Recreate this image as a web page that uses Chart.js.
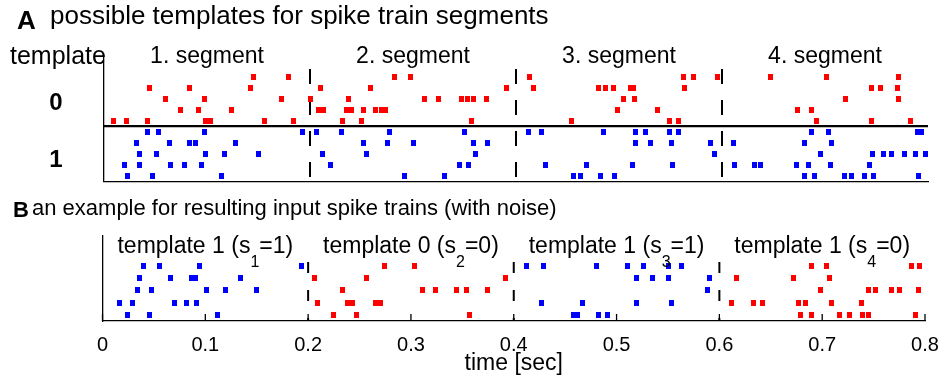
<!DOCTYPE html>
<html>
<head>
<meta charset="utf-8">
<script src="https://cdn.jsdelivr.net/npm/chart.js@4.4.1/dist/chart.umd.min.js"></script>
<style>
html,body{margin:0;padding:0;background:#fff;}
#wrap{position:relative;width:946px;height:377px;overflow:hidden;}
#topChart{position:absolute;left:0;top:0;}
#botChart{position:absolute;left:0;top:190px;}
</style>
</head>
<body>
<div id="wrap">
<canvas id="topChart" width="946" height="190"></canvas>
<canvas id="botChart" width="946" height="187"></canvas>
</div>
<script>
// Segments and labels
const segBounds=[0,0.2,0.4,0.6,0.8];
const segNames=["1. segment","2. segment","3. segment","4. segment"];
const segTemplate=[1,0,1,1];
const segS=[1,0,1,0];
const timeTicks=[0,0.1,0.2,0.3,0.4,0.5,0.6,0.7,0.8];

// Panel A: template 0 (red), rows from top to bottom
const template0=[
 [0.145,0.179,0.282,0.298,0.413,0.563,0.572,0.596,0.647,0.701,0.771],
 [0.044,0.083,0.142,0.210,0.259,0.391,0.417,0.480,0.487,0.495,0.511,0.514,0.564,0.745,0.754,0.770],
 [0.060,0.098,0.172,0.200,0.237,0.311,0.325,0.347,0.353,0.359,0.371,0.504,0.515,0.720,0.771],
 [0.074,0.092,0.124,0.208,0.213,0.235,0.240,0.252,0.264,0.269,0.273,0.499,0.537,0.673,0.687],
 [0.009,0.022,0.042,0.099,0.103,0.156,0.184,0.232,0.250,0.357,0.454,0.549,0.558,0.692,0.745,0.783]
];
// Panel A: template 1 (blue), rows from top to bottom
const template1=[
 [0.042,0.053,0.098,0.193,0.206,0.231,0.277,0.350,0.412,0.425,0.485,0.516,0.526,0.549,0.558,0.687,0.703,0.790,0.794],
 [0.032,0.064,0.083,0.089,0.128,0.252,0.275,0.300,0.359,0.372,0.516,0.531,0.551,0.589,0.611,0.680,0.706],
 [0.034,0.051,0.099,0.117,0.150,0.212,0.255,0.361,0.593,0.696,0.746,0.757,0.765,0.777,0.788,0.798],
 [0.020,0.034,0.065,0.078,0.095,0.220,0.345,0.354,0.429,0.468,0.513,0.552,0.612,0.632,0.637,0.672,0.684,0.705,0.743],
 [0.023,0.047,0.114,0.292,0.331,0.456,0.463,0.482,0.496,0.680,0.690,0.719,0.726,0.738,0.747,0.791]
];
// Panel B: resulting input spike trains, rows from top to bottom
const inputBlue=[
 [0.040,0.055,0.094,0.194,0.412,0.429,0.480,0.511,0.526,0.551,0.563],
 [0.036,0.066,0.087,0.090,0.134,0.519,0.535,0.551,0.590],
 [0.034,0.048,0.101,0.120,0.150,0.588],
 [0.017,0.029,0.070,0.082,0.091,0.427,0.467,0.519,0.553],
 [0.024,0.046,0.112,0.458,0.462,0.482,0.491]
];
const inputRed=[
 [0.274,0.303,0.690,0.704,0.787,0.795],
 [0.206,0.257,0.392,0.617,0.672,0.707],
 [0.233,0.311,0.324,0.344,0.354,0.374,0.698,0.745,0.752,0.767,0.775,0.794],
 [0.209,0.238,0.243,0.266,0.270,0.612,0.633,0.642,0.677,0.684,0.709,0.738],
 [0.225,0.247,0.357,0.679,0.690,0.717,0.727,0.739,0.745,0.791]
];

const FONT="'Liberation Sans', Arial, Helvetica, sans-serif";

// little spike marks
function mark(color){let c=document.createElement("canvas"); c.width=5; c.height=6; let g=c.getContext("2d"); g.fillStyle=color; g.fillRect(0,0,5,6); return c;}
const redMark=mark("#ff0000"), blueMark=mark("#0000ff");

function spikeSets(rows,topRow,img){
    return rows.map((r,i)=>({data:r.map(t=>({x:t,y:topRow-i})),pointStyle:img,pointRadius:3,pointHoverRadius:3,showLine:false,clip:false,order:0}));
}
function dashSets(yTop,yBot,dash){
    return segBounds.slice(1,-1).map(e=>({data:[{x:e,y:yTop},{x:e,y:yBot}],showLine:true,borderColor:"#000",borderWidth:2,borderDash:dash,pointRadius:0,order:1}));
}
function plainAxis(extra){
    return Object.assign({type:"linear",ticks:{display:false},grid:{display:true,drawOnChartArea:false,drawTicks:false},border:{display:true,color:"#000",width:1.3}},extra);
}

// Panel A
const topMin=0.455, topMax=11.88;
let topChart=new Chart(document.getElementById("topChart"),{
    type:"scatter",
    data:{datasets:[
        ...spikeSets(template0,10,redMark),
        ...spikeSets(template1,5,blueMark),
        {data:[{x:segBounds[0],y:5.5},{x:segBounds[segBounds.length-1],y:5.5}],showLine:true,borderColor:"#000",borderWidth:2.2,pointRadius:0,order:1},
        ...dashSets(10.7,topMin,[15,16])
    ]},
    options:{
        responsive:false,animation:false,events:[],
        layout:{padding:{top:56,right:18,left:0,bottom:0}},
        plugins:{legend:{display:false},tooltip:{enabled:false}},
        scales:{
            x:plainAxis({min:0,max:0.8,afterFit:s=>{s.height=190-181.7;s.paddingLeft=0;s.paddingRight=0;}}),
            y:plainAxis({min:topMin,max:topMax,afterFit:s=>{s.width=104;}})
        }
    },
    plugins:[{id:"textA",afterDraw(c){
        let g=c.ctx, xs=c.scales.x;
        g.save(); g.fillStyle="#000"; g.textBaseline="alphabetic"; g.textAlign="left";
        g.font="bold 26px "+FONT; g.fillText("A",17,29);
        g.font="26px "+FONT; g.fillText("possible templates for spike train segments",50,23.5);
        g.font="25px "+FONT; g.fillText("template",10,64);
        g.textAlign="center";
        g.font="bold 24px "+FONT; g.fillText("0",56,110); g.fillText("1",56,167);
        g.font="23px "+FONT;
        segNames.forEach((s,i)=>g.fillText(s,xs.getPixelForValue((segBounds[i]+segBounds[i+1])/2),63));
        g.restore();
    }}]
});

// Panel B
const botMin=0.54, botMax=7.395;
let botChart=new Chart(document.getElementById("botChart"),{
    type:"scatter",
    data:{datasets:[
        ...spikeSets(inputBlue,5,blueMark),
        ...spikeSets(inputRed,5,redMark),
        ...dashSets(5.3,botMin,[11,17])
    ]},
    options:{
        responsive:false,animation:false,events:[],
        layout:{padding:{top:46,right:21,left:0,bottom:0}},
        plugins:{legend:{display:false},tooltip:{enabled:false}},
        scales:{
            x:{type:"linear",min:0,max:0.8,
               afterBuildTicks:s=>{s.ticks=timeTicks.map(v=>({value:v}));},
               ticks:{color:"#000",font:{family:FONT,size:20},padding:12,maxRotation:0,callback:v=>String(+v.toFixed(1))},
               grid:{display:true,drawOnChartArea:false,drawTicks:false},
               border:{display:true,color:"#000",width:1.3},
               title:{display:true,text:"time [sec]",color:"#000",font:{family:FONT,size:23},padding:{top:0,bottom:0}},
               afterFit:s=>{s.height=187-131;s.paddingLeft=0;s.paddingRight=0;}},
            y:plainAxis({min:botMin,max:botMax,afterFit:s=>{s.width=102.5;}})
        }
    },
    plugins:[{id:"textB",afterDraw(c){
        let g=c.ctx, xs=c.scales.x, a=c.chartArea;
        g.save();
        // inward tick marks on the time axis
        g.strokeStyle="#000"; g.lineWidth=1.3;
        timeTicks.forEach(v=>{let px=xs.getPixelForValue(v); g.beginPath(); g.moveTo(px,a.bottom); g.lineTo(px,a.bottom-7); g.stroke();});
        g.fillStyle="#000"; g.textBaseline="alphabetic"; g.textAlign="left";
        g.font="bold 22px "+FONT; g.fillText("B",13,27);
        g.font="22px "+FONT; g.fillText("an example for resulting input spike trains (with noise)",32,25);
        segNames.forEach((s,i)=>{
            let t="template "+segTemplate[i]+" (s", sub=String(i+1), b="="+segS[i]+")";
            g.font="23px "+FONT; let wa=g.measureText(t).width, wb=g.measureText(b).width;
            g.font="16px "+FONT; let ws=g.measureText(sub).width;
            let cx=xs.getPixelForValue((segBounds[i]+segBounds[i+1])/2), x0=cx-(wa+ws+wb)/2;
            g.font="23px "+FONT; g.fillText(t,x0,63); g.fillText(b,x0+wa+ws,63);
            g.font="16px "+FONT; g.fillText(sub,x0+wa,77);
        });
        g.restore();
    }}]
});
</script>
</body>
</html>
